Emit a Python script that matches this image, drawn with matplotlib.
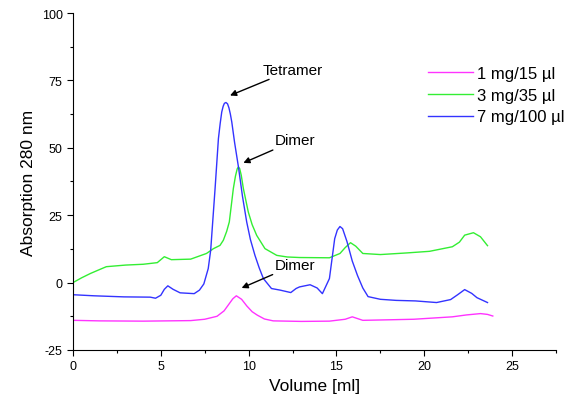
import matplotlib
matplotlib.use("Agg")
import matplotlib.pyplot as plt
from matplotlib.ticker import MultipleLocator

plt.rcParams['font.family'] = ['Liberation Sans', 'DejaVu Sans']
plt.rcParams['axes.unicode_minus'] = False

# Data
blue_label = "7 mg/100 µl"
blue_x = [0, 1.2, 2.9, 4.4, 4.7, 5.0, 5.2, 5.4, 5.7, 6.1, 6.9, 7.2, 7.45, 7.7, 7.84, 8.09, 8.28, 8.38, 8.47, 8.55,
          8.62, 8.71, 8.8, 8.88, 8.96, 9.04, 9.2, 9.42, 9.65, 9.89, 10.1, 10.36, 10.6, 10.84, 11.3, 11.8, 12.4,
          12.7, 12.9, 13.5, 13.9, 14.2, 14.6, 14.9, 15.05, 15.2, 15.35, 15.6, 15.9, 16.2, 16.5, 16.8, 17.5, 18.4,
          19.5, 20.7, 21.5, 21.9, 22.3, 22.7, 23.0, 23.6]
blue_y = [-4.5, -4.9, -5.3, -5.4, -5.8, -4.7, -2.5, -1.2, -2.5, -3.8, -4.1, -2.8, -0.5, 5.2, 12, 34.9, 53.4, 59,
          63.3, 65.4, 66.5, 66.8, 66.3, 64.8, 62.5, 59.6, 52, 42.9, 32, 22.5, 16, 10.1, 5.5, 1.5, -2.2, -2.8, -3.7,
          -2.2, -1.6, -0.8, -2, -4.1, 1.5, 16.3, 19.5, 20.8, 20, 15.2, 8, 2.6, -2, -5.2, -6.2, -6.6, -6.8, -7.4,
          -6.3, -4.5, -2.6, -4, -5.6, -7.4]

green_label = "3 mg/35 µl"
green_x = [0, 0.5, 1.0, 1.5, 1.9, 3.0, 4.0, 4.8, 5.2, 5.6, 6.7, 7.6, 8.0, 8.37, 8.56, 8.75, 8.9, 9.13, 9.25, 9.35,
           9.42, 9.49, 9.58, 9.7, 9.98, 10.2, 10.46, 10.93, 11.6, 12.2, 12.9, 14.6, 15.2, 15.5, 15.8, 16.1, 16.5,
           17.5, 19.0, 20.3, 21.6, 22.0, 22.3, 22.8, 23.2, 23.6]
green_y = [0, 1.8, 3.4, 4.8, 5.9, 6.5, 6.8, 7.4, 9.6, 8.5, 8.7, 10.8, 12.6, 13.8, 15.7, 19, 22.5, 34.9, 39.5, 42.2,
           42.9, 42.3, 39.8, 34.9, 26.2, 21.5, 17.5, 12.6, 10.1, 9.5, 9.3, 9.2, 10.8, 13, 14.8, 13.5, 10.8, 10.4,
           11, 11.6, 13.3, 15, 17.6, 18.5, 17, 13.7]

magenta_label = "1 mg/15 µl"
magenta_x = [0, 1.5, 4.0, 6.7, 7.5, 8.2, 8.6, 8.9, 9.1, 9.3, 9.6, 9.9, 10.2, 10.5, 10.9, 11.4, 13.0, 14.6,
             15.5, 15.9, 16.5, 18.0, 19.4, 21.6, 22.4, 23.2, 23.6, 23.9]
magenta_y = [-14, -14.2, -14.3, -14.1, -13.6, -12.5, -10.5, -7.8, -6, -4.9, -6.2, -8.7, -10.8, -12.1, -13.5,
             -14.2, -14.4, -14.3, -13.6, -12.7, -14, -13.8, -13.6, -12.7, -12, -11.5, -11.8, -12.4]

annotations = [("Tetramer", (8.94, 69.4), (10.8, 79.0)),
               ("Dimer", (9.7, 44.4), (11.5, 52.8)),
               ("Dimer", (9.6, -2.0), (11.5, 6.6))]

fig = plt.figure(figsize=(5.76, 4.06), dpi=100)
ax = fig.add_axes([0.1267, 0.1355, 0.8386, 0.83])

l1, = ax.plot(magenta_x, magenta_y, color='#ff33ff', lw=1.0, label=magenta_label)
l2, = ax.plot(green_x, green_y, color='#33ee33', lw=1.0, label=green_label)
l3, = ax.plot(blue_x, blue_y, color='#3333ff', lw=1.0, label=blue_label)

for txt, xy, xytext in annotations:
    ax.annotate(txt, xy=xy, xytext=xytext, fontsize=11, va='center', ha='left',
                arrowprops=dict(arrowstyle='-|>', color='black', lw=1.0, mutation_scale=9,
                                shrinkA=0, shrinkB=0))

ax.set_xlim(0, 27.5)
ax.set_ylim(-25, 100)
ax.xaxis.set_major_locator(MultipleLocator(5))
ax.xaxis.set_minor_locator(MultipleLocator(2.5))
ax.yaxis.set_major_locator(MultipleLocator(25))
ax.yaxis.set_minor_locator(MultipleLocator(12.5))
ax.tick_params(which='major', direction='out', length=4, width=0.8, labelsize=9)
ax.tick_params(which='minor', direction='out', length=2.5, width=0.8)
for s in ['top', 'right']:
    ax.spines[s].set_visible(False)

ax.set_xlabel("Volume [ml]", fontsize=12.5)
ax.set_ylabel("Absorption 280 nm", fontsize=12.5)

ax.legend(handles=[l1, l2, l3], loc='upper left', bbox_to_anchor=(0.704, 0.887), frameon=False,
          fontsize=12, handlelength=2.7, handletextpad=0.25, labelspacing=0.4)

fig.savefig("out.png", dpi=100)
